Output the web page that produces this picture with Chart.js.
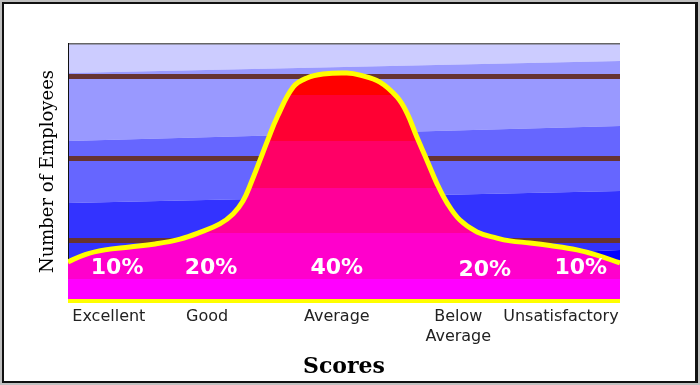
<!DOCTYPE html>
<html>
<head>
<meta charset="utf-8">
<script src="https://cdn.jsdelivr.net/npm/chart.js@4"></script>
<style>
  html, body { margin: 0; padding: 0; background: #fff; }
  #wrap { width: 700px; height: 385px; }
</style>
</head>
<body>
<div id="wrap"><canvas id="scores"></canvas></div>
<script>
// Bell curve of employee scores (x: 0-100 across, y: 0-100 up)
const curveX = [0, 3.1, 6.7, 11.2, 15.8, 20.3, 23.9, 27.5, 29.9, 31.7, 33.3, 34.8, 36.2, 37.9, 40.8, 43.3, 46.2,
                50.5, 52.9, 56.5, 59.6, 61.4, 63.2, 65.0, 66.8, 68.7, 71.0, 74.1, 77.7, 80.1, 83.7, 87.3, 92.2, 95.8, 100];
const curveY = [14.8, 17.7, 19.5, 20.6, 21.8, 23.7, 26.3, 29.6, 33.5, 38.5, 46.3, 54.5, 62.3, 71.2, 82.9, 86.4, 87.9,
                88.3, 87.5, 84.8, 79.0, 72.8, 63.4, 54.5, 45.5, 37.7, 31.1, 26.5, 24.1, 23.0, 22.2, 21.2, 19.5, 17.5, 14.4];

const categories = ['Excellent', 'Good', 'Average', ['Below', 'Average'], 'Unsatisfactory'];
const categoryX = [7.4, 25.2, 48.7, 70.7, 89.3];

const shares = ['10%', '20%', '40%', '20%', '10%'];
const shareX = [8.9, 25.9, 48.7, 75.5, 92.9];
const shareY = [12.5, 12.5, 12.5, 11.7, 12.5];

const gridLevels = [23, 55, 87];

// fill bands, top to bottom (values on the y scale where the colour changes)
const fillEdges = [79.8, 61.9, 43.6, 26.1, 8.2];
const fillColors = ['#FF0000', '#FF0033', '#FF0066', '#FF0099', '#FF00CC', '#FF00FF'];

const backColors = ['#CCCCFF', '#9999FF', '#6666FF', '#3333FF', '#0000FF'];

function bandedFill(context) {
    const chart = context.chart;
    const a = chart.chartArea;
    const y = chart.scales.y;
    if (!a || !y) return fillColors[fillColors.length - 1];
    const g = chart.ctx.createLinearGradient(0, a.top, 0, a.bottom);
    const h = a.bottom - a.top;
    g.addColorStop(0, fillColors[0]);
    fillEdges.forEach((v, i) => {
        const f = Math.min(1, Math.max(0, (y.getPixelForValue(v) - a.top) / h));
        g.addColorStop(f, fillColors[i]);
        g.addColorStop(f, fillColors[i + 1]);
    });
    g.addColorStop(1, fillColors[fillColors.length - 1]);
    return g;
}

const backdrop = {
    id: 'backdrop',
    beforeDraw(chart) {
        const c = chart.ctx, a = chart.chartArea;
        c.save();
        // window frame
        c.fillStyle = '#c0c0c0';
        c.fillRect(0, 0, chart.width, chart.height);
        c.fillStyle = '#111';
        c.fillRect(2, 2, 696, 381);
        c.fillStyle = '#fff';
        c.fillRect(4, 4, 691, 377);

        // slanted blue bands
        const edges = [[a.top, a.top], [73, 61], [141, 126], [203, 191], [275, 250], [a.bottom, a.bottom]];
        for (let i = 0; i < backColors.length; i++) {
            c.fillStyle = backColors[i];
            c.beginPath();
            c.moveTo(a.left, edges[i][0]);
            c.lineTo(a.right, edges[i][1]);
            c.lineTo(a.right, edges[i + 1][1]);
            c.lineTo(a.left, edges[i + 1][0]);
            c.closePath();
            c.fill();
        }
        c.fillStyle = '#666';
        c.fillRect(a.left, a.top, a.right - a.left, 1.5);
        c.restore();
    },
    afterDatasetsDraw(chart) {
        const c = chart.ctx, a = chart.chartArea;
        const xs = chart.scales.x, ys = chart.scales.y;
        c.save();
        c.fillStyle = '#FFFF00';
        c.fillRect(a.left, a.bottom - 1, a.right - a.left, 4);

        c.fillStyle = '#fff';
        c.font = 'bold 22px "DejaVu Sans"';
        c.textAlign = 'center';
        c.textBaseline = 'middle';
        shares.forEach((t, i) => {
            c.fillText(t, xs.getPixelForValue(shareX[i]), ys.getPixelForValue(shareY[i]));
        });
        c.restore();
    }
};

new Chart(document.getElementById('scores'), {
    type: 'line',
    data: {
        datasets: [{
            data: curveX.map((x, i) => ({ x: x, y: curveY[i] })),
            borderColor: '#FFFF00',
            borderWidth: 5,
            backgroundColor: bandedFill,
            fill: 'start',
            pointRadius: 0,
            tension: 0.4,
            clip: 0
        }]
    },
    options: {
        responsive: true,
        maintainAspectRatio: false,
        animation: false,
        layout: { padding: { top: 43, right: 80, bottom: 0, left: 0 } },
        plugins: {
            legend: { display: false },
            tooltip: { enabled: false }
        },
        scales: {
            x: {
                type: 'linear',
                min: 0,
                max: 100,
                afterBuildTicks: s => { s.ticks = categoryX.map(v => ({ value: v })); },
                afterFit: s => { s.height = 85; },
                grid: { display: false, drawTicks: false },
                border: { display: false },
                ticks: {
                    autoSkip: false,
                    maxRotation: 0,
                    padding: 7,
                    color: '#222',
                    font: { family: 'DejaVu Sans', size: 16, lineHeight: 1.25 },
                    callback: (v, i) => categories[i]
                },
                title: {
                    display: true,
                    text: 'Scores',
                    color: '#000',
                    font: { family: 'DejaVu Serif', size: 22, weight: 'bold' },
                    padding: { top: 0, bottom: 5 }
                }
            },
            y: {
                min: 0,
                max: 100,
                afterBuildTicks: s => { s.ticks = gridLevels.map(v => ({ value: v })); },
                afterFit: s => { s.width = 68; },
                grid: { color: '#663333', lineWidth: 5, drawTicks: false },
                border: { display: true, color: '#111', width: 1 },
                ticks: { display: false },
                title: {
                    display: true,
                    text: 'Number of Employees',
                    color: '#000',
                    font: { family: 'DejaVu Serif', size: 18 },
                    padding: { top: 38, bottom: 0 }
                }
            }
        }
    },
    plugins: [backdrop]
});
</script>
</body>
</html>
